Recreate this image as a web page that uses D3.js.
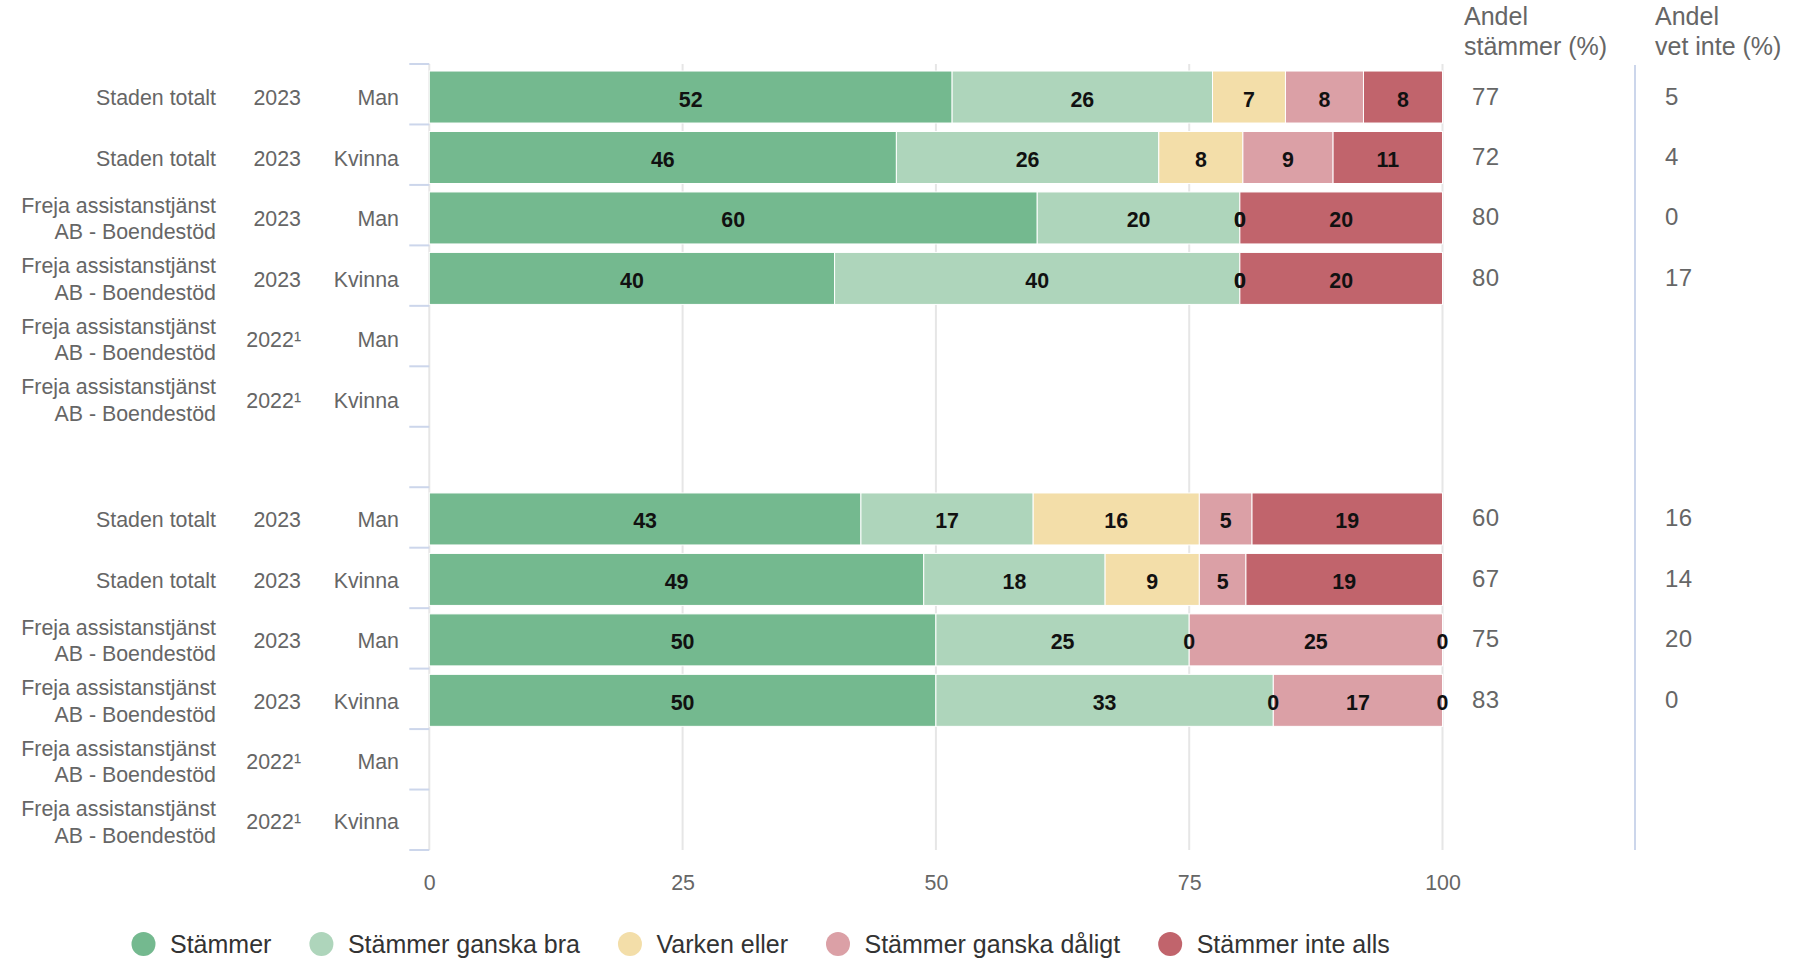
<!DOCTYPE html>
<html><head><meta charset="utf-8">
<script src="https://cdn.jsdelivr.net/npm/d3@7"></script>
<style>
body{margin:0;background:#fff;}
svg{display:block;font-family:"Liberation Sans",Arial,sans-serif;}
</style>
</head><body>
<svg id="chart" width="1799" height="958"></svg>
<script>
// ---------- data ----------
const rowNames = ["Staden totalt","Staden totalt","Freja assistanstjänst\nAB - Boendestöd","Freja assistanstjänst\nAB - Boendestöd","Freja assistanstjänst\nAB - Boendestöd","Freja assistanstjänst\nAB - Boendestöd","",
                  "Staden totalt","Staden totalt","Freja assistanstjänst\nAB - Boendestöd","Freja assistanstjänst\nAB - Boendestöd","Freja assistanstjänst\nAB - Boendestöd","Freja assistanstjänst\nAB - Boendestöd"];
const rowYears = ["2023","2023","2023","2023","2022¹","2022¹","","2023","2023","2023","2023","2022¹","2022¹"];
const rowGenders = ["Man","Kvinna","Man","Kvinna","Man","Kvinna","","Man","Kvinna","Man","Kvinna","Man","Kvinna"];
const seriesNames = ["Stämmer","Stämmer ganska bra","Varken eller","Stämmer ganska dåligt","Stämmer inte alls"];
const seriesColors = ["#74b98f","#aed5bb","#f3dea9","#dba0a6","#c1646c"];
const stammer       = [51.6,46.1,60,40,null,null,null,42.6,48.8,50,50,null,null];
const ganskaBra     = [25.7,25.9,20,40,null,null,null,17.0,17.9,25,33.3,null,null];
const varkenEller   = [7.2,8.3,0,0,null,null,null,16.4,9.3,0,0,null,null];
const ganskaDaligt  = [7.7,8.9,0,0,null,null,null,5.2,4.6,25,16.7,null,null];
const inteAlls      = [7.8,10.8,20,20,null,null,null,18.8,19.4,0,0,null,null];
const andelStammer  = [77,72,80,80,null,null,null,60,67,75,83,null,null];
const andelVetInte  = [5,4,0,17,null,null,null,16,14,20,0,null,null];
const xTicks = [0,25,50,75,100];
const colHeaders = [["Andel","stämmer (%)"],["Andel","vet inte (%)"]];

// ---------- layout ----------
const SX = 0.93; // horizontal text compression seen in reference
const svg = d3.select("#chart");
const x = d3.scaleLinear().domain([0,100]).range([429.3,1442.5]);
const y = d3.scaleBand().domain(d3.range(rowNames.length)).range([64,850]).paddingInner(0).paddingOuter(0);
const step = y.step();
const barH = 52;
const rowC = i => y(i) + step/2 + (i < 6 ? 2.8 : 1.5);

function ctext(g, px, py, str, opts){
  return g.append("text")
    .attr("transform", `translate(${px},${py}) scale(${opts.sx ?? SX},1)`)
    .attr("text-anchor", opts.anchor || "start")
    .attr("font-size", opts.size || 23)
    .attr("font-weight", opts.weight || "normal")
    .attr("fill", opts.color || "#666")
    .text(str);
}

// gridlines
const grid = svg.append("g");
grid.selectAll("line").data(xTicks).join("line")
  .attr("x1", d=>x(d)).attr("x2", d=>x(d))
  .attr("y1", y.range()[0]).attr("y2", y.range()[1])
  .attr("stroke", "#e6e6e6").attr("stroke-width", 2);

// category tick marks
const ticksG = svg.append("g");
ticksG.selectAll("line").data(d3.range(rowNames.length+1)).join("line")
  .attr("x1", x(0)-20).attr("x2", x(0))
  .attr("y1", d=>y.range()[0] + d*step).attr("y2", d=>y.range()[0] + d*step)
  .attr("stroke", "#ccd6eb").attr("stroke-width", 2);

// right separator
svg.append("line").attr("x1",1635).attr("x2",1635).attr("y1",65).attr("y2",850)
  .attr("stroke","#ccd6eb").attr("stroke-width",2);

// stacked bars
const rows = rowNames.map((n,i)=>({i, v:[stammer[i],ganskaBra[i],varkenEller[i],ganskaDaligt[i],inteAlls[i]]}))
  .filter(r => r.v[0] !== null);
const stack = d3.stack().keys(d3.range(5)).value((r,k)=>r.v[k]);
const stacked = stack(rows);
const barsG = svg.append("g");
stacked.forEach((layer,k)=>{
  barsG.selectAll(null).data(layer).join("rect")
    .attr("x", d=>x(d[0])).attr("width", d=>Math.max(0, x(d[1])-x(d[0])))
    .attr("y", d=>rowC(d.data.i)-barH/2).attr("height", barH)
    .attr("fill", seriesColors[k]).attr("stroke","#fff").attr("stroke-width",1);
});
const labelsG = svg.append("g");
stacked.forEach((layer,k)=>{
  layer.forEach(d=>{
    const cx = (x(d[0])+x(d[1]))/2;
    ctext(labelsG, cx, rowC(d.data.i)+9.5, String(Math.round(d[1]-d[0])), {anchor:"middle", size:23, weight:"bold", color:"#111"});
  });
});

// category labels
const catG = svg.append("g");
rowNames.forEach((n,i)=>{
  if(!n) return;
  const c = rowC(i);
  const lines = n.split("\n");
  lines.forEach((ln,j)=>{
    const off = (j - (lines.length-1)/2) * 26.5;
    ctext(catG, 216, c + off + 8.2, ln, {anchor:"end"});
  });
  ctext(catG, 301, c + 8.2, rowYears[i], {anchor:"end"});
  ctext(catG, 399, c + 8.2, rowGenders[i], {anchor:"end"});
});

// x axis labels
const xAxis = d3.axisBottom(x).tickValues(xTicks).tickSize(0).tickPadding(0);
const xg = svg.append("g").attr("transform","translate(0,890)").call(xAxis);
xg.select(".domain").remove();
xg.selectAll("text").attr("dy",0).attr("y",0).attr("transform",`scale(${SX},1)`)
  .attr("font-size",23).attr("fill","#666").attr("font-family","Liberation Sans, Arial, sans-serif");

// right columns
const colG = svg.append("g");
const colX = [1464, 1655];
const valX = [1472, 1665];
colHeaders.forEach((h,c)=>{
  h.forEach((ln,j)=>{
    colG.append("text").attr("x", colX[c]).attr("y", 25 + j*29.5)
      .attr("font-size",25).attr("fill","#666").text(ln);
  });
});
[andelStammer, andelVetInte].forEach((arr,c)=>{
  arr.forEach((v,i)=>{
    if(v===null) return;
    colG.append("text").attr("x", valX[c]).attr("y", rowC(i)+7.5)
      .attr("font-size",24).attr("fill","#666").attr("letter-spacing",0.5).text(v);
  });
});

// legend
const legG = svg.append("g");
let lx = 143.5;
const ly = 944;
seriesNames.forEach((s,k)=>{
  legG.append("circle").attr("cx", lx).attr("cy", ly).attr("r", 12).attr("fill", seriesColors[k]);
  const t = ctext(legG, lx + 26.5, ly + 9, s, {size:25, color:"#333", sx:1});
  const w = t.node().getComputedTextLength();
  lx = lx + 26.5 + w + 50;
});
</script>
</body></html>
